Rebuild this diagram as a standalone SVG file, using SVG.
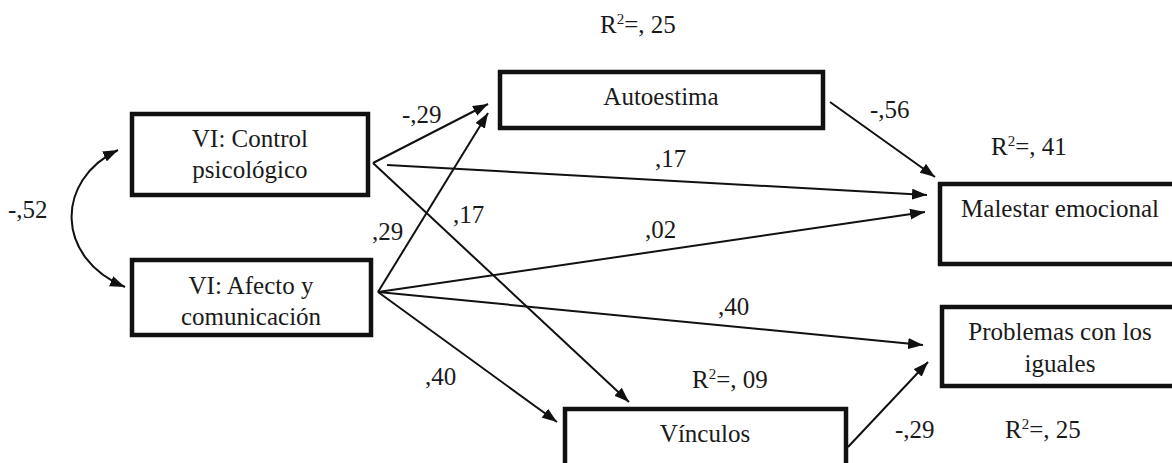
<svg xmlns="http://www.w3.org/2000/svg" width="1172" height="463" viewBox="0 0 1172 463" font-family="'Liberation Serif', 'DejaVu Serif', 'Times New Roman', Times, serif">
  <defs>
    <marker id="arrow" markerUnits="userSpaceOnUse" markerWidth="15" markerHeight="11" refX="15" refY="5.5" orient="auto-start-reverse">
      <path d="M0,0 L15,5.5 L0,11 z" fill="#111"/>
    </marker>
    <style>
      .box { fill: #fff; stroke: #111; stroke-width: 4.5; }
      .lbl { font-family: 'Liberation Serif', 'DejaVu Serif', 'Times New Roman', Times, serif; font-size: 25px; fill: #1a1a1a; }
      .mid { text-anchor: middle; }
      .sup { font-size: 15px; }
      .edge { fill: none; stroke: #111; stroke-width: 2; marker-end: url(#arrow); }
    </style>
  </defs>

  <rect width="1172" height="463" fill="#fff"/>

  <!-- connectors -->
  <g id="connectors">
    <path class="edge" d="M373,163 L488,104"/>
    <path class="edge" d="M378,292 L488,113"/>
    <path class="edge" d="M387,165 L927,195"/>
    <path class="edge" d="M373,163 L629,402"/>
    <path class="edge" d="M378,292 L925,212"/>
    <path class="edge" d="M378,292 L923,345"/>
    <path class="edge" d="M378,292 L557,422"/>
    <path class="edge" d="M830,102 L935,177"/>
    <path class="edge" d="M848,447 L928,362"/>
    <!-- correlation between the two predictors -->
    <path class="edge" d="M118,150 C55,180 55,258 125,287" marker-start="url(#arrow)"/>
  </g>

  <!-- path coefficients and explained variance -->
  <g id="labels" class="lbl" font-family="'Liberation Serif', 'DejaVu Serif', serif">
    <text x="600" y="33">R<tspan class="sup" dy="-9">2</tspan><tspan dy="9">=, 25</tspan></text>
    <text x="402" y="123">-,29</text>
    <text x="655" y="167">,17</text>
    <text x="870" y="118">-,56</text>
    <text x="991" y="155">R<tspan class="sup" dy="-9">2</tspan><tspan dy="9">=, 41</tspan></text>
    <text x="8" y="218">-,52</text>
    <text x="372" y="240">,29</text>
    <text x="453" y="223">,17</text>
    <text x="645" y="238">,02</text>
    <text x="718" y="315">,40</text>
    <text x="425" y="385">,40</text>
    <text x="692" y="388">R<tspan class="sup" dy="-9">2</tspan><tspan dy="9">=, 09</tspan></text>
    <text x="895" y="438">-,29</text>
    <text x="1005" y="438">R<tspan class="sup" dy="-9">2</tspan><tspan dy="9">=, 25</tspan></text>
  </g>

  <g id="control" font-family="'Liberation Serif', 'DejaVu Serif', serif">
    <rect class="box" x="132" y="114" width="236" height="81"/>
    <text class="lbl mid" x="250" y="147">VI: Control</text>
    <text class="lbl mid" x="250" y="178">psicológico</text>
  </g>

  <g id="afecto" font-family="'Liberation Serif', 'DejaVu Serif', serif">
    <rect class="box" x="132" y="260" width="239" height="75"/>
    <text class="lbl mid" x="251" y="294">VI: Afecto y</text>
    <text class="lbl mid" x="251" y="325">comunicación</text>
  </g>

  <g id="autoestima" font-family="'Liberation Serif', 'DejaVu Serif', serif">
    <rect class="box" x="500" y="72" width="323" height="56"/>
    <text class="lbl mid" x="661" y="105">Autoestima</text>
  </g>

  <g id="malestar" font-family="'Liberation Serif', 'DejaVu Serif', serif">
    <rect class="box" x="940" y="184" width="250" height="80"/>
    <text class="lbl mid" x="1060" y="217">Malestar emocional</text>
  </g>

  <g id="problemas" font-family="'Liberation Serif', 'DejaVu Serif', serif">
    <rect class="box" x="942" y="307" width="250" height="79"/>
    <text class="lbl mid" x="1060" y="340">Problemas con los</text>
    <text class="lbl mid" x="1060" y="372">iguales</text>
  </g>

  <g id="vinculos" font-family="'Liberation Serif', 'DejaVu Serif', serif">
    <rect class="box" x="565" y="409" width="281" height="80"/>
    <text class="lbl mid" x="705" y="442">Vínculos</text>
  </g>
</svg>
